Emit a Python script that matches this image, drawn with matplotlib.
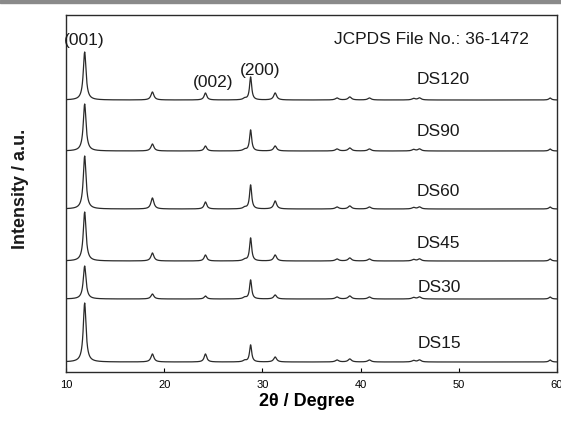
import numpy as np
import matplotlib
matplotlib.use('Agg')
import matplotlib.pyplot as plt
from matplotlib.patches import Rectangle

plt.rcParams['font.family'] = ['Liberation Sans', 'DejaVu Sans']

# sample names, bottom to top, and their baseline offsets (arbitrary units)
samples = ['DS15', 'DS30', 'DS45', 'DS60', 'DS90', 'DS120']
offsets = [10, 73, 111, 163, 221, 272]

# peak positions (2theta, degree) and half widths
peak_pos = [11.9, 18.8, 24.2, 28.2, 28.8, 31.3, 37.6, 38.9, 40.9, 45.4, 46.0, 59.3]
peak_hw = [0.17, 0.18, 0.16, 0.2, 0.13, 0.18, 0.2, 0.2, 0.2, 0.2, 0.2, 0.15]

# peak heights for every sample (same order as peak_pos)
heights = {
    'DS15':  [59, 8, 8, 1.5, 17, 5, 2, 3, 2, 1.5, 2, 2],
    'DS30':  [33, 5, 3, 1.5, 19, 4, 2, 3, 2, 1.5, 2, 2],
    'DS45':  [49, 8, 6, 1.5, 23, 6, 2, 3, 2, 1.5, 2, 2],
    'DS60':  [53, 11, 7, 1.5, 24, 8, 2, 3, 2, 1.5, 2, 2],
    'DS90':  [47, 7, 5, 1.5, 21, 5, 2, 3, 2, 1.5, 2, 2],
    'DS120': [48, 8, 7, 1.5, 23, 7, 2, 3, 2, 1.5, 2, 2],
}

# text label positions (x in degree, y in axis units)
label_x = [48.0, 48.0, 47.9, 47.9, 47.9, 48.4]
label_y = [28, 85, 128, 181, 240, 293]

x = np.linspace(10, 60, 3001)


def profile(name):
    y = np.zeros_like(x)
    for p, w, h in zip(peak_pos, peak_hw, heights[name]):
        y += h / (1 + ((x - p) / w) ** 2)
    return y


fig = plt.figure(figsize=(5.61, 4.22), dpi=100)
ax = fig.add_axes([66 / 561, 50 / 422, 491 / 561, 357 / 422])

for i, name in enumerate(samples):
    ax.plot(x, profile(name) + offsets[i], color='#2a2a2a', lw=0.9)
    ax.text(label_x[i], label_y[i], name, fontsize=12.5, ha='center', va='center', color='#1a1a1a')

ax.text(11.9, 332, '(001)', fontsize=12.5, ha='center', va='center', color='#1a1a1a')
ax.text(25.0, 289, '(002)', fontsize=12.5, ha='center', va='center', color='#1a1a1a')
ax.text(29.75, 302, '(200)', fontsize=12.5, ha='center', va='center', color='#1a1a1a')
ax.text(47.2, 332, 'JCPDS File No.: 36-1472', fontsize=12.5, ha='center', va='center', color='#1a1a1a')

ax.set_xlim(10, 60)
ax.set_ylim(0, 357)
ax.set_xticks([10, 20, 30, 40, 50, 60])
ax.set_yticks([])
ax.tick_params(axis='x', direction='in', length=3, width=0.8, labelsize=8, pad=6)
for s in ax.spines.values():
    s.set_linewidth(1.0)
    s.set_color('#2a2a2a')

ax.set_xlabel('2θ / Degree', fontsize=13, fontweight='bold')
ax.xaxis.set_label_coords(0.49, -0.058)
ax.set_ylabel('Intensity / a.u.', fontsize=13, fontweight='bold', color='#1a1a1a')
ax.yaxis.set_label_coords(-0.075, 0.514)

# grey strip from the scan at the top edge
fig.patches.append(Rectangle((0, 0.993), 1, 0.007, transform=fig.transFigure, color='#8a8a8a'))

fig.savefig('out.png', dpi=100)
